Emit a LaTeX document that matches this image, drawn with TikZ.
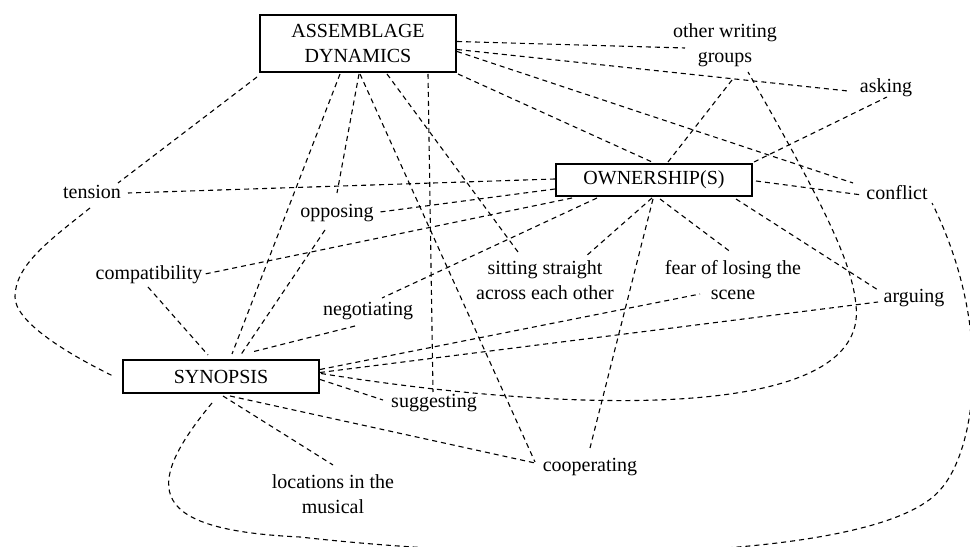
\documentclass[tikz,border=0pt]{standalone}
\usepackage{fontspec}
\setmainfont{Liberation Serif}
\usetikzlibrary{calc}
\newcommand\lblfont{\fontsize{10bp}{12.25bp}\selectfont}
\begin{document}
\begin{tikzpicture}[x=0.5bp,y=-0.5bp,
  every node/.style={font=\lblfont},
  box/.style={draw, line width=1bp, minimum width=98bp, inner sep=0pt, align=center},
  lbl/.style={inner sep=0pt, align=center},
  link/.style={dash pattern=on 2.5bp off 2bp, line width=0.55bp},
]
\useasboundingbox (0,0) rectangle (970,547);
\clip (0,0) rectangle (970,547);

% boxes
\node[box, minimum height=28.5bp] (ad) at (358,43.5) {ASSEMBLAGE\\DYNAMICS};
\node[box, minimum height=16bp] (own) at (654,180) {OWNERSHIP(S)};
\node[box, minimum height=16.5bp] (syn) at (221,376.5) {SYNOPSIS};

% labels
\node[lbl, anchor=base] (tension) at (92,199) {tension};
\node[lbl, anchor=base] (opposing) at (337,218) {opposing};
\node[lbl, anchor=base] (compat) at (149,280) {compatibility};
\node[lbl, anchor=base] (negot) at (368,316) {negotiating};
\node[lbl, anchor=base] (sugg) at (434,408) {suggesting};
\node[lbl, anchor=base] (arguing) at (914,303) {arguing};
\node[lbl, anchor=base] (coop) at (590,472) {cooperating};
\node[lbl, anchor=base] (asking) at (886,93) {asking};
\node[lbl, anchor=base] (conflict) at (897,200) {conflict};
\node[lbl] (loc) at (333,494) {locations in the\\musical};
\node[lbl] (sit) at (545,280) {sitting straight\\across each other};
\node[lbl] (fear) at (733,280) {fear of losing the\\scene};
\node[lbl] (other) at (725,45) {other writing\\groups};

% straight connectors
\draw[link] ($(ad.south west)+(-2,4)$) -- ($(tension.base)+(26,-16)$);
\draw[link] ($(ad.south)+(-18,1)$) -- ($(syn.north)+(11,-5)$);
\draw[link] ($(ad.south)+(1,1)$) -- ($(opposing.base)+(0,-25)$);
\draw[link] ($(opposing.base)+(-12,12)$) -- ($(syn.north)+(19,-3)$);
\draw[link] ($(ad.south)+(2,1)$) -- ($(coop.base)+(-55,-10)$);
\draw[link] ($(ad.south)+(29,1)$) -- ($(sit.center)+(-27,-28)$);
\draw[link] ($(ad.south)+(70,1)$) -- ($(sugg.base)+(-1,-16)$);
\draw[link] ($(ad.east)+(0,-2)$) -- ($(other.center)+(-40,3)$);
\draw[link] ($(ad.east)+(0,6)$) -- ($(asking.base)+(-38,-2)$);
\draw[link] ($(ad.east)+(0,8)$) -- ($(conflict.base)+(-44,-17)$);
\draw[link] ($(ad.south east)+(1,1)$) -- ($(own.north)+(-2,-1)$);
\draw[link] ($(own.north)+(14,-1)$) -- ($(other.center)+(7,35)$);
\draw[link] ($(own.north east)+(1,-1)$) -- ($(asking.base)+(1,4)$);
\draw[link] ($(own.east)+(3,1)$) -- ($(conflict.base)+(-35,-5)$);
\draw[link] ($(own.south east)+(-17,2)$) -- ($(arguing.base)+(-36,-13)$);
\draw[link] ($(own.south)+(6,2)$) -- ($(fear.center)+(-1,-27)$);
\draw[link] ($(own.south)+(-1,2)$) -- ($(coop.base)+(0,-24)$);
\draw[link] ($(own.south)+(-2,1)$) -- ($(sit.center)+(40,-23)$);
\draw[link] ($(own.west)+(0,-1)$) -- ($(tension.base)+(36,-6)$);
\draw[link] ($(own.west)+(0,9)$) -- ($(opposing.base)+(43,-6)$);
\draw[link] ($(own.south west)+(17,1)$) -- ($(compat.base)+(56,-6)$);
\draw[link] ($(own.south west)+(42,1)$) -- ($(negot.base)+(14,-18)$);
\draw[link] ($(compat.base)+(-1,7)$) -- ($(syn.north)+(-13,-4)$);
\draw[link] ($(negot.base)+(-13,10)$) -- ($(syn.north)+(31,-7)$);
\draw[link] ($(syn.east)+(0,-7)$) -- ($(fear.center)+(-33,14)$);
\draw[link] ($(syn.east)+(0,-4)$) -- ($(arguing.base)+(-36,-1)$);
\draw[link] ($(syn.east)+(0,3)$) -- ($(sugg.base)+(-51,-8)$);
\draw[link] ($(syn.south)+(9,2)$) -- ($(coop.base)+(-55,-9)$);
\draw[link] ($(syn.south)+(2,2)$) -- ($(loc.center)+(0,-29)$);

% curved connectors
\draw[link] ($(syn.east)+(1,-3)$) .. controls (560,412) and (870,425) .. (856,305)
  .. controls (852,265) and (830,215) .. ($(other.center)+(23,27)$);
\draw[link] ($(tension.base)+(-2,9)$) .. controls (50,240) and (15,265) .. (15,297)
  .. controls (15,320) and (60,350) .. ($(syn.west)+(-10,-1)$);
\draw[link] ($(syn.south)+(-9,9)$) .. controls (140,490) and (150,530) .. (300,537)
  .. controls (550,565) and (880,560) .. (940,490)
  .. controls (975,452) and (995,330) .. ($(conflict.base)+(35,3)$);
\end{tikzpicture}
\end{document}
